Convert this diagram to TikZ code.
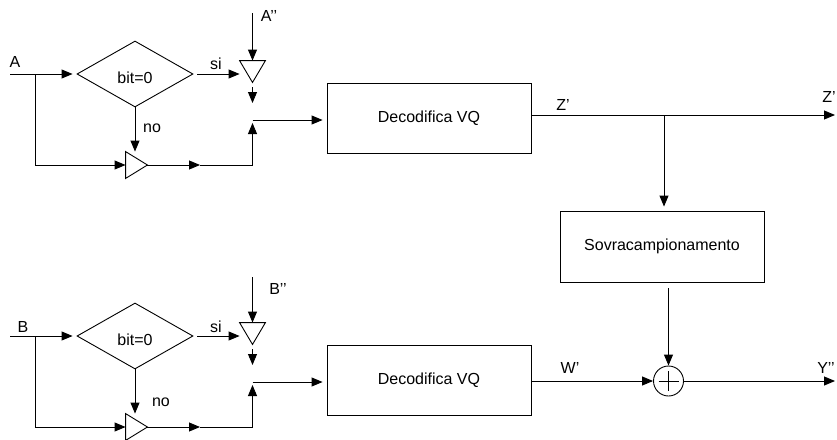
\documentclass[tikz,border=0pt]{standalone}
\usepackage{fontspec}
\setmainfont{Liberation Sans}
\usetikzlibrary{arrows.meta,shapes.geometric,calc}
\begin{document}
\begin{tikzpicture}[x=1pt,y=-1pt,
  line width=0.9pt,
  >={Triangle[length=11pt,width=9pt]},
  lbl/.style={inner sep=0pt,font=\fontsize{16}{18}\selectfont},
  blk/.style={draw,rectangle,inner sep=0pt,font=\fontsize{16}{18}\selectfont},
  dec/.style={draw,diamond,inner sep=0pt,minimum width=116pt,minimum height=66pt},
  tribox/.style={inner sep=0pt,minimum width=#1},
  sumnode/.style={draw,circle,inner sep=0pt,minimum size=30pt}
]
\useasboundingbox (0,0) rectangle (837,439);

% ---------------- top row (A) ----------------
\coordinate (ain) at (10,74);
\coordinate (ab) at (35,74);
\coordinate (ain2) at (252.5,13);
\coordinate (j1) at (252.5,120);
\coordinate (m1) at (200,165);
\node[dec] (d1) at (135,74) {};
\node[lbl] (d1t) at (135,78) {bit=0};
\node[tribox=25pt,minimum height=21pt] (t1) at (252.5,71.5) {};
\draw (t1.north west) -- (t1.north east) -- (t1.south) -- cycle;
\node[tribox=21pt,minimum height=26pt] (t2) at (136.5,165) {};
\draw (t2.north west) -- (t2.east) -- (t2.south west) -- cycle;
\node[blk,minimum width=204pt,minimum height=70pt] (dv1) at (429,118) {Decodifica VQ};

\node[lbl] (la) at (15,62) {A};
\node[lbl] (la2) at (269,16) {A’’};
\node[lbl] (lsi1) at (216,64) {si};
\node[lbl] (lno1) at (152,128) {no};

\draw[->,shorten >=4pt] (ain) -- (d1.west);
\draw[->] (ab) -- (ab |- t2.west) -- (t2.west);
\draw[->,shorten <=4pt] (d1.east) -- (d1.east -| t1.west);
\draw[->] (ain2) -- (t1.north);
\draw[->,shorten <=5pt,shorten >=17pt] (t1.south) -- (j1);
\draw[->] (d1.south) -- (d1.south |- t2.north);
\draw[->] (t2.east) -- (m1);
\draw[->,shorten >=3pt] (m1) -- (m1 -| j1) -- (j1);
\draw[->,shorten >=4pt] (j1) -- (j1 -| dv1.west);

% ---------------- bottom row (B) ----------------
\coordinate (bin) at (10,336);
\coordinate (bb) at (35,336);
\coordinate (bin2) at (252.5,277);
\coordinate (j2) at (252.5,382);
\coordinate (m2) at (200,427);
\node[dec] (d2) at (135,336) {};
\node[lbl] (d2t) at (135,340) {bit=0};
\node[tribox=25pt,minimum height=21pt] (t3) at (252.5,333.5) {};
\draw (t3.north west) -- (t3.north east) -- (t3.south) -- cycle;
\node[tribox=21pt,minimum height=26pt] (t4) at (136.5,427) {};
\draw (t4.north west) -- (t4.east) -- (t4.south west) -- cycle;
\node[blk,minimum width=204pt,minimum height=70pt] (dv2) at (429,380) {Decodifica VQ};

\node[lbl] (lb) at (23,327) {B};
\node[lbl] (lb2) at (278,289) {B’’};
\node[lbl] (lsi2) at (216,327) {si};
\node[lbl] (lno2) at (161,402) {no};

\draw[->,shorten >=4pt] (bin) -- (d2.west);
\draw[->] (bb) -- (bb |- t4.west) -- (t4.west);
\draw[->,shorten <=4pt] (d2.east) -- (d2.east -| t3.west);
\draw[->] (bin2) -- (t3.north);
\draw[->,shorten <=5pt,shorten >=17pt] (t3.south) -- (j2);
\draw[->] (d2.south) -- (d2.south |- t4.north);
\draw[->] (t4.east) -- (m2);
\draw[->,shorten >=3pt] (m2) -- (m2 -| j2) -- (j2);
\draw[->,shorten >=4pt] (j2) -- (j2 -| dv2.west);

% ---------------- right part ----------------
\coordinate (zo) at (835,115);
\coordinate (zb) at (664,115);
\coordinate (yo) at (835,381);
\node[blk,minimum width=204pt,minimum height=71pt] (sov) at (662,246.5) {Sovracampionamento};
\node[sumnode] (sum) at (668.5,381) {};
\draw[line width=0.6pt] ($(sum.center)+(-10,0)$) -- ($(sum.center)+(10,0)$);
\draw[line width=0.6pt] ($(sum.center)+(0,-10)$) -- ($(sum.center)+(0,10)$);

\node[lbl] (lz1) at (563,105) {Z’};
\node[lbl] (lz2) at (829,97) {Z’};
\node[lbl] (lw) at (570,368) {W’};
\node[lbl] (ly) at (826,368) {Y’’};

\draw[->] (dv1.east |- zo) -- (zo);
\draw[->,shorten >=4pt] (zb) -- (zb |- sov.north);
\draw[->,shorten <=6pt] (sov.south -| sum.north) -- (sum.north);
\draw[->] (dv2.east |- sum.west) -- (sum.west);
\draw[->] (sum.east) -- (yo);
\end{tikzpicture}
\end{document}
